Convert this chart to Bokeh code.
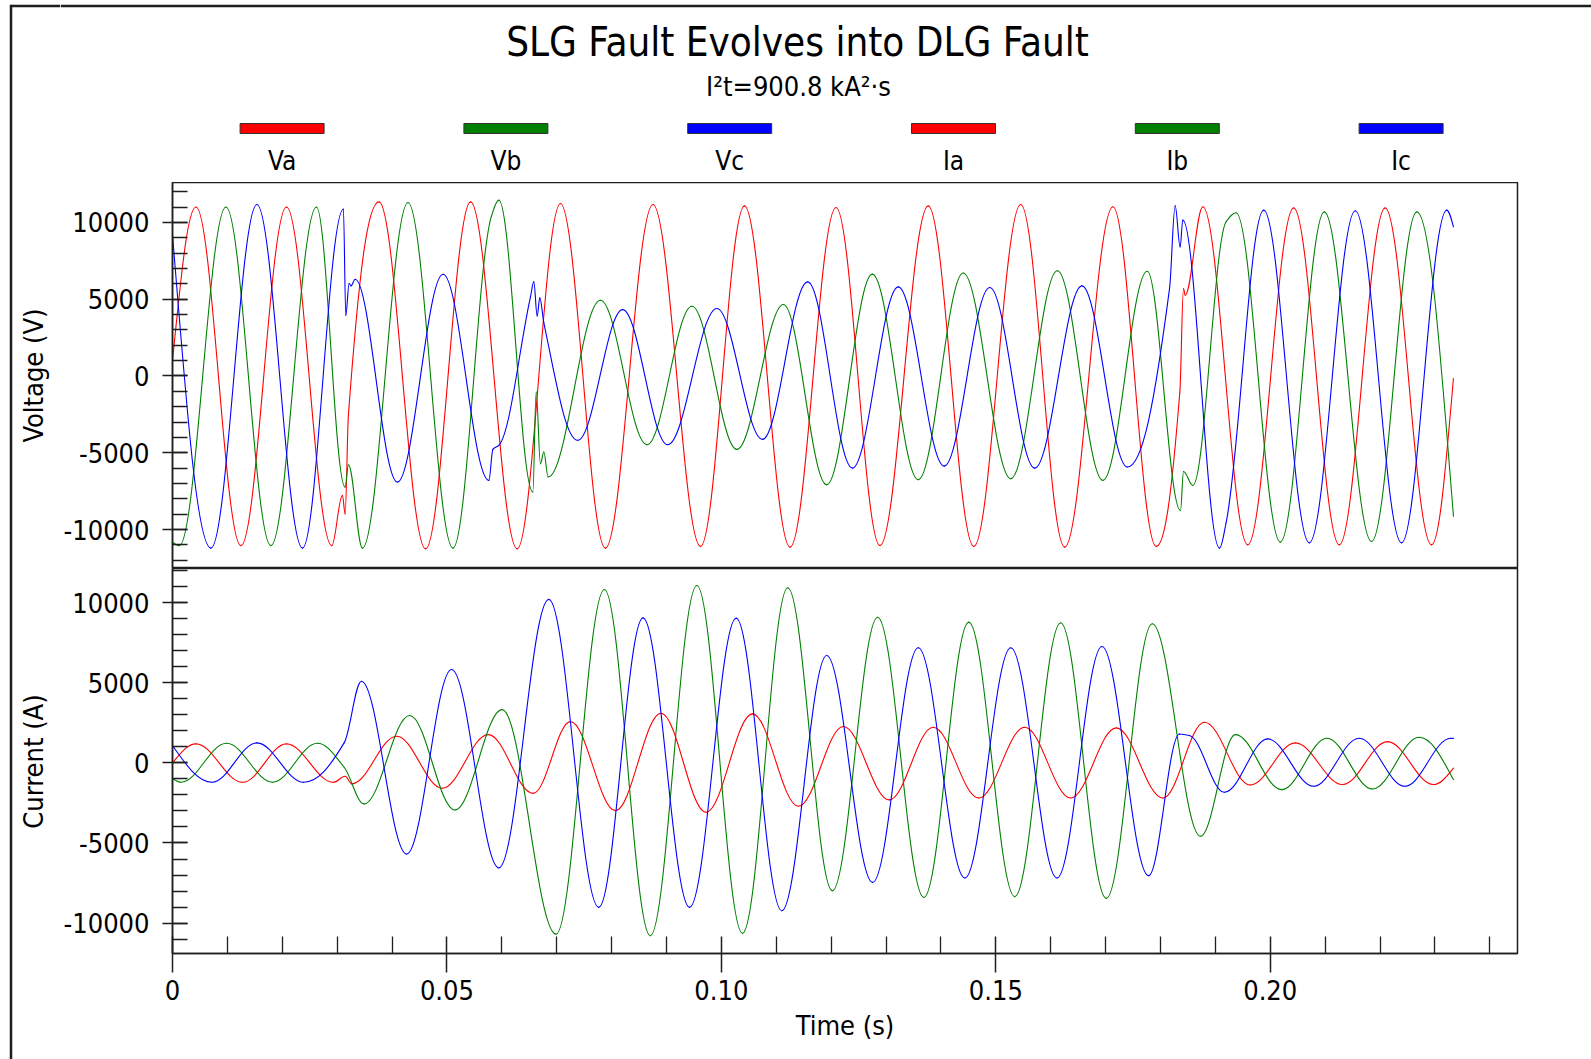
import numpy as np
from bokeh.plotting import figure
from bokeh.layouts import row, column
from bokeh.models import Range1d, FixedTicker, ColumnDataSource
from bokeh.embed import file_html
from bokeh.resources import INLINE
from bokeh.core.properties import value

FONT = "DejaVu Sans Condensed"

TITLE = "SLG Fault Evolves into DLG Fault"
SUBTITLE = "I\u00b2t=900.8 kA\u00b2\u00b7s"
SERIES_NAMES = ["Va", "Vb", "Vc", "Ia", "Ib", "Ic"]
SERIES_COLORS = ["#ff0000", "#008000", "#0000ff", "#ff0000", "#008000", "#0000ff"]

# ---- waveform knots (time in s, value) ----
VA_T = [0.0, 0.00428, 0.01247, 0.02077, 0.02902, 0.03096, 0.03145, 0.03205, 0.03763, 0.04612,
        0.05431, 0.06280, 0.07068, 0.07887, 0.08754, 0.09620, 0.10421, 0.11252, 0.12089, 0.12889,
        0.13769, 0.14600, 0.15455, 0.16255, 0.17134, 0.17922, 0.18353, 0.18420, 0.18450, 0.18772,
        0.19590, 0.20427, 0.21258, 0.22094, 0.22938, 0.23338]
VA_V = [1000, 11000, -11050, 11000, -11050, -7780, -8980, -2560, 11340, -11260,
        11340, -11260, 11230, -11210, 11170, -11100, 11080, -11150, 10970, -11040,
        11080, -11100, 11170, -11150, 11020, -11100, -1040, 5690, 5260, 11020,
        -11000, 10950, -11000, 10950, -11000, -170]

VB_T = [0.0, 0.00125, 0.00974, 0.01793, 0.02623, 0.03145, 0.03205, 0.03460, 0.04291, 0.05110,
        0.05813, 0.05946, 0.06565, 0.06626, 0.06704, 0.06765, 0.06844, 0.07796, 0.08645, 0.09463,
        0.10282, 0.11131, 0.11919, 0.12750, 0.13587, 0.14406, 0.15273, 0.16122, 0.16952, 0.17759,
        0.18365, 0.18420, 0.18590, 0.19196, 0.19378, 0.20184, 0.20985, 0.21846, 0.22670, 0.23338]
VB_V = [-10820, -11050, 11000, -11050, 11000, -7240, -5780, -11210, 11300, -11210,
        10430, 11450, -7560, -1040, -5720, -4950, -6580, 4930, -4480, 4540,
        -4780, 4650, -7080, 6630, -6760, 6710, -6690, 6850, -6800, 6820,
        -8760, -6220, -7130, 10040, 10630, -10820, 10690, -10780, 10690, -9130]

VC_T = [0.0, 0.00701, 0.01538, 0.02369, 0.03114, 0.03157, 0.03218, 0.03254, 0.03327, 0.04097,
        0.04930, 0.05764, 0.05837, 0.05946, 0.06522, 0.06583, 0.06644, 0.06692, 0.06765, 0.07383,
        0.08202, 0.09021, 0.09918, 0.10749, 0.11573, 0.12386, 0.13223, 0.14060, 0.14890, 0.15709,
        0.16570, 0.17395, 0.18165, 0.18268, 0.18359, 0.18407, 0.19075, 0.19196, 0.19881, 0.20712,
        0.21549, 0.22392, 0.23216, 0.23338]
VC_V = [9200, -11210, 11170, -11210, 10870, 3960, 6020, 5870, 6300, -6910,
        6620, -6800, -4780, -4520, 5150, 6130, 3910, 5090, 3480, -4190,
        4320, -4480, 4390, -4130, 6130, -6000, 5800, -5870, 5760, -6000,
        5870, -5930, 5690, 11080, 8410, 10150, -11210, -9560, 10800, -10870,
        10760, -10870, 10800, 9710]

IA_T = [0.0, 0.00428, 0.01277, 0.02077, 0.02933, 0.03145, 0.03266, 0.04085, 0.04915, 0.05752,
        0.06571, 0.07250, 0.08069, 0.08900, 0.09720, 0.10567, 0.11404, 0.12222, 0.13059, 0.13860,
        0.14690, 0.15527, 0.16364, 0.17195, 0.18044, 0.18802, 0.19635, 0.20457, 0.21318, 0.22137,
        0.22974, 0.23338]
IA_V = [0, 1190, -1210, 1190, -1210, -830, -1310, 1670, -1580, 1770,
        -1900, 2580, -2980, 3100, -3080, 3060, -2710, 2270, -2310, 2230,
        -2190, 2230, -2190, 2190, -2190, 2540, -1380, 1250, -1350, 1330,
        -1350, -330]

IB_T = [0.0, 0.00155, 0.00986, 0.01823, 0.02641, 0.03127, 0.03490, 0.04321, 0.05146, 0.06007,
        0.06989, 0.07869, 0.08705, 0.09554, 0.10385, 0.11210, 0.12022, 0.12847, 0.13690, 0.14508,
        0.15345, 0.16182, 0.17013, 0.17850, 0.18729, 0.19366, 0.20209, 0.21033, 0.21864, 0.22713,
        0.23338]
IB_V = [-960, -1210, 1230, -1210, 1230, -270, -2560, 2960, -2940, 3330,
        -10690, 10830, -10790, 11080, -10640, 10940, -7980, 9100, -8400, 8790,
        -8350, 8750, -8460, 8690, -4580, 1770, -1670, 1540, -1630, 1600,
        -1040]

IC_T = [0.0, 0.00719, 0.01538, 0.02387, 0.03127, 0.03442, 0.04267, 0.05085, 0.05946, 0.06856,
        0.07766, 0.08572, 0.09421, 0.10270, 0.11101, 0.11919, 0.12756, 0.13587, 0.14436, 0.15273,
        0.16115, 0.16934, 0.17783, 0.18347, 0.18529, 0.19165, 0.19954, 0.20790, 0.21621, 0.22452,
        0.23289, 0.23338]
IC_V = [1080, -1210, 1250, -1210, 1250, 5100, -5690, 5830, -6560, 10210,
        -9020, 9060, -9020, 9040, -9230, 6710, -7460, 7190, -7190, 7190,
        -7190, 7270, -7040, 1810, 1710, -1830, 1500, -1460, 1540, -1460,
        1540, 1530]

V_TICKS = [-10000, -5000, 0, 5000, 10000]
V_TICK_LABELS = ["-10000", "-5000", "0", "5000", "10000"]
V_MINOR = [-12000, -11000, -10000, -9000, -8000, -7000, -6000, -5000, -4000, -3000, -2000, -1000,
           0, 1000, 2000, 3000, 4000, 5000, 6000, 7000, 8000, 9000, 10000, 11000, 12000]
I_TICKS = [-10000, -5000, 0, 5000, 10000]
I_TICK_LABELS = ["-10000", "-5000", "0", "5000", "10000"]
I_MINOR = [-11000, -10000, -9000, -8000, -7000, -6000, -5000, -4000, -3000, -2000, -1000,
           0, 1000, 2000, 3000, 4000, 5000, 6000, 7000, 8000, 9000, 10000, 11000, 12000]
T_TICKS = [0.0, 0.05, 0.10, 0.15, 0.20]
T_TICK_LABELS = ["0", "0.05", "0.10", "0.15", "0.20"]
T_MINOR = [0.01, 0.02, 0.03, 0.04, 0.06, 0.07, 0.08, 0.09, 0.11, 0.12, 0.13, 0.14,
           0.16, 0.17, 0.18, 0.19, 0.21, 0.22, 0.23, 0.24]


def smooth_segments(t, v, k=0.36):
    """Bezier control points (monotone tangents) so the library draws a smooth curve through the knots."""
    t = np.asarray(t, float)
    v = np.asarray(v, float)
    h = np.diff(t)
    d = np.diff(v) / h
    n = len(t)
    m = np.zeros(n)
    for i in range(1, n - 1):
        if d[i - 1] * d[i] > 0:
            w1 = 2 * h[i] + h[i - 1]
            w2 = h[i] + 2 * h[i - 1]
            m[i] = (w1 + w2) / (w1 / d[i - 1] + w2 / d[i])
    for e, dd, mn in ((0, d[0], m[1]), (n - 1, d[-1], m[-2])):
        me = (3 * dd - mn) / 2
        if me * dd <= 0:
            me = 0.0
        elif abs(me) > 3 * abs(dd):
            me = 3 * dd
        m[e] = me
    return ColumnDataSource(dict(
        x0=t[:-1], y0=v[:-1], x1=t[1:], y1=v[1:],
        cx0=t[:-1] + k * h, cy0=v[:-1] + m[:-1] * k * h,
        cx1=t[1:] - k * h, cy1=v[1:] - m[1:] * k * h,
    ))


LEFT_STRIP = 60
TOTAL_W, TOTAL_H = 1591, 1059
HDR_H = 182
FRAME_L, FRAME_R = 170, 1517
FIG_W = TOTAL_W - LEFT_STRIP
BORDER_L = FRAME_L - LEFT_STRIP
BORDER_R = FIG_W - (FRAME_R - LEFT_STRIP)
INK = "#1e1e1e"


def no_align(fig):
    if "frame_align" in fig.properties():
        fig.frame_align = False
        return True
    return False


# ---- left strip: outer frame line and rotated axis titles ----
strip = figure(width=LEFT_STRIP, height=TOTAL_H, x_range=Range1d(0, LEFT_STRIP), y_range=Range1d(TOTAL_H, 0),
               output_backend="svg", toolbar_location=None, min_border=0,
               x_axis_location=None, y_axis_location=None)
no_align(strip)
strip.grid.visible = False
strip.outline_line_color = None
strip.segment(x0=[10.5, 10.5], y0=[4.3, 5.5], x1=[10.5, LEFT_STRIP], y1=[TOTAL_H, 5.5],
              line_color=INK, line_width=2.5)
strip.text(x=[33, 33], y=[375, 761], text=["Voltage (V)", "Current (A)"], angle=np.pi / 2,
           text_align="center", text_baseline="middle", text_font=value(FONT),
           text_font_size="27px", text_color="black")

# ---- header: title, subtitle, legend ----
hdr = figure(width=FIG_W, height=HDR_H, y_range=Range1d(HDR_H, 0),
             output_backend="svg", toolbar_location=None, min_border=0,
             x_axis_location=None, y_axis_location=None)
if no_align(hdr):
    hdr.x_range = Range1d(LEFT_STRIP, TOTAL_W)
else:
    hdr.x_range = Range1d(FRAME_L, FRAME_R)
hdr.grid.visible = False
hdr.outline_line_color = None
hdr.segment(x0=[LEFT_STRIP], y0=[5.5], x1=[TOTAL_W], y1=[5.5], line_color=INK, line_width=2.5)
hdr.text(x=[797], y=[41], text=[TITLE], text_align="center", text_baseline="middle",
         text_font=value(FONT), text_font_size="40px", text_color="black")
hdr.text(x=[798], y=[86], text=[SUBTITLE], text_align="center", text_baseline="middle",
         text_font=value(FONT), text_font_size="27px", text_color="black")
leg_x = [281.6 + 223.8 * i for i in range(len(SERIES_NAMES))]
hdr.rect(x=leg_x, y=[128] * 6, width=84, height=10, fill_color=SERIES_COLORS,
         line_color="#333333", line_width=1)
hdr.text(x=leg_x, y=[160] * 6, text=SERIES_NAMES, text_align="center", text_baseline="middle",
         text_font=value(FONT), text_font_size="26px", text_color="black")

xr = Range1d(0, 0.24505)


def style_y(ax, ticks, labels, minor):
    ax.ticker = FixedTicker(ticks=ticks, minor_ticks=minor)
    ax.major_label_overrides = {tk: lb for tk, lb in zip(ticks, labels)}
    ax.major_tick_in = 15
    ax.major_tick_out = 10
    ax.minor_tick_in = 15
    ax.minor_tick_out = 0
    ax.major_label_standoff = 13
    ax.major_label_text_font = FONT
    ax.major_label_text_font_size = "27px"
    ax.major_label_text_color = "black"
    ax.axis_line_color = INK
    ax.axis_line_width = 1.5
    ax.major_tick_line_color = INK
    ax.major_tick_line_width = 1.5
    ax.minor_tick_line_color = INK
    ax.minor_tick_line_width = 1.3


# ---- voltage panel ----
vf = figure(width=FIG_W, height=386, x_range=xr, y_range=Range1d(-12540, 12600),
            output_backend="svg", toolbar_location=None,
            min_border_left=BORDER_L, min_border_right=BORDER_R, min_border_top=0, min_border_bottom=0,
            x_axis_location=None)
vf.grid.visible = False
vf.outline_line_color = INK
vf.outline_line_width = 1.5
vf.outline_line_alpha = 1.0
style_y(vf.yaxis[0], V_TICKS, V_TICK_LABELS, V_MINOR)
for tt, vv, col in ((VA_T, VA_V, SERIES_COLORS[0]), (VB_T, VB_V, SERIES_COLORS[1]), (VC_T, VC_V, SERIES_COLORS[2])):
    vf.bezier(x0="x0", y0="y0", x1="x1", y1="y1", cx0="cx0", cy0="cy0", cx1="cx1", cy1="cy1",
              source=smooth_segments(tt, vv), line_color=col, line_width=1.1, line_cap="round")

# ---- current panel ----
cf = figure(width=FIG_W, height=TOTAL_H - HDR_H - 386, x_range=xr, y_range=Range1d(-11900, 12140),
            output_backend="svg", toolbar_location=None,
            min_border_left=BORDER_L, min_border_right=BORDER_R, min_border_top=0, min_border_bottom=106)
cf.grid.visible = False
cf.outline_line_color = INK
cf.outline_line_width = 1.5
cf.outline_line_alpha = 1.0
style_y(cf.yaxis[0], I_TICKS, I_TICK_LABELS, I_MINOR)
xa = cf.xaxis[0]
xa.ticker = FixedTicker(ticks=T_TICKS, minor_ticks=T_MINOR)
xa.major_label_overrides = {tk: lb for tk, lb in zip(T_TICKS, T_TICK_LABELS)}
xa.major_tick_in = 17
xa.major_tick_out = 19
xa.minor_tick_in = 17
xa.minor_tick_out = 0
xa.major_label_standoff = 7
xa.major_label_text_font = FONT
xa.major_label_text_font_size = "27px"
xa.major_label_text_color = "black"
xa.axis_label = "Time (s)"
xa.axis_label_standoff = 7
xa.axis_label_text_font = FONT
xa.axis_label_text_font_size = "27px"
xa.axis_label_text_font_style = "normal"
xa.axis_label_text_color = "black"
xa.axis_line_color = INK
xa.axis_line_width = 1.5
xa.major_tick_line_color = INK
xa.major_tick_line_width = 1.5
xa.minor_tick_line_color = INK
xa.minor_tick_line_width = 1.3
for tt, vv, col in ((IA_T, IA_V, SERIES_COLORS[3]), (IB_T, IB_V, SERIES_COLORS[4]), (IC_T, IC_V, SERIES_COLORS[5])):
    cf.bezier(x0="x0", y0="y0", x1="x1", y1="y1", cx0="cx0", cy0="cy0", cx1="cx1", cy1="cy1",
              source=smooth_segments(tt, vv), line_color=col, line_width=1.1, line_cap="round")

layout = row(strip, column(hdr, vf, cf, spacing=0), spacing=0)
open("out.html", "w").write(file_html(layout, INLINE))
